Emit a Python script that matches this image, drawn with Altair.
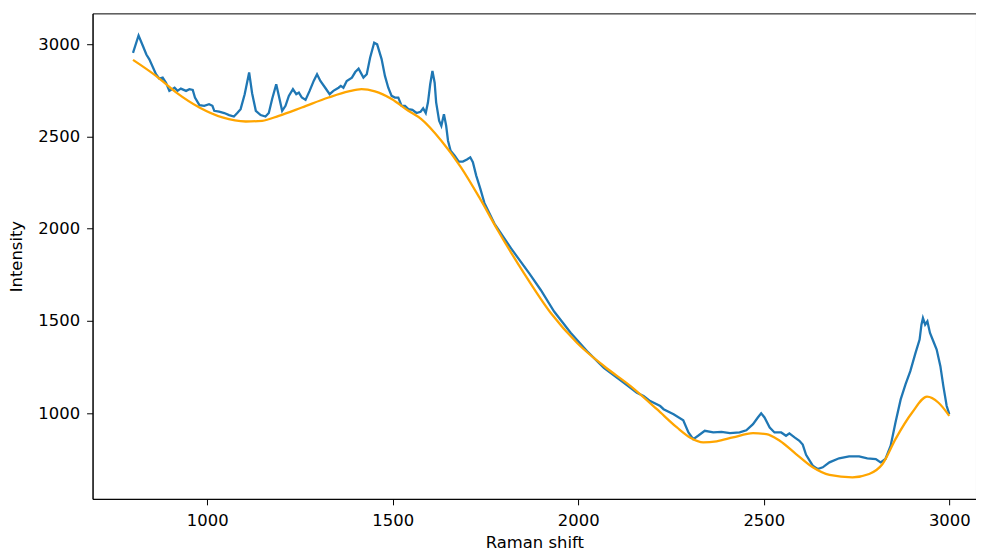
import altair as alt
import pandas as pd

# Raw spectrum (blue)
raw_x = [800, 815, 827, 836, 844, 862, 871, 880, 889, 898, 912, 920, 929, 943, 952, 961, 967, 979, 992,
         1005, 1014, 1019, 1032, 1046, 1059, 1072, 1081, 1090, 1101, 1113, 1121, 1131, 1144, 1157, 1166,
         1175, 1186, 1193, 1202, 1211, 1220, 1231, 1240, 1247, 1255, 1265, 1276, 1287, 1296, 1305, 1318,
         1330, 1340, 1354, 1360, 1367, 1376, 1390, 1399, 1408, 1421, 1430, 1439, 1450, 1458, 1470, 1479,
         1488, 1497, 1506, 1515, 1524, 1533, 1542, 1553, 1564, 1575, 1582, 1589, 1595, 1601, 1607, 1613,
         1617, 1625, 1631, 1638, 1644, 1649, 1656, 1667, 1678, 1689, 1700, 1709, 1716, 1725, 1736, 1747,
         1774, 1819, 1868, 1899, 1935, 1980, 2024, 2069, 2123, 2158, 2176, 2194, 2221, 2230, 2257, 2283,
         2297, 2310, 2323, 2341, 2364, 2386, 2409, 2435, 2453, 2471, 2484, 2493, 2502, 2516, 2529, 2547,
         2560, 2569, 2583, 2596, 2605, 2614, 2632, 2645, 2659, 2677, 2703, 2730, 2757, 2779, 2802, 2815,
         2828, 2842, 2855, 2869, 2882, 2895, 2909, 2920, 2925, 2929, 2935, 2941, 2948, 2957, 2966, 2976,
         2984, 2993, 3000]
raw_y = [2953, 3047, 2989, 2944, 2918, 2837, 2813, 2819, 2791, 2747, 2764, 2747, 2759, 2747, 2756, 2752,
         2711, 2670, 2666, 2675, 2666, 2639, 2634, 2627, 2616, 2608, 2627, 2648, 2729, 2847, 2734, 2639,
         2616, 2608, 2627, 2703, 2783, 2720, 2639, 2666, 2720, 2756, 2729, 2738, 2711, 2698, 2747, 2801,
         2837, 2801, 2764, 2729, 2747, 2764, 2774, 2764, 2801, 2819, 2849, 2867, 2819, 2837, 2927, 3008,
         2999, 2919, 2828, 2764, 2720, 2711, 2711, 2666, 2666, 2648, 2644, 2627, 2634, 2652, 2627, 2685,
         2783, 2855, 2791, 2685, 2585, 2558, 2621, 2558, 2477, 2423, 2396, 2364, 2364, 2375, 2387, 2361,
         2288, 2217, 2140, 2028, 1893, 1758, 1668, 1551, 1435, 1336, 1246, 1165, 1111, 1093, 1066, 1039,
         1022, 995, 962, 896, 860, 878, 905, 896, 899, 892, 896, 908, 941, 977, 1000, 977, 923, 896, 896,
         878, 891, 869, 851, 830, 775, 716, 698, 707, 734, 756, 766, 766, 756, 752, 734, 752, 824, 950,
         1075, 1156, 1228, 1327, 1399, 1480, 1516, 1480, 1498, 1435, 1390, 1345, 1255, 1147, 1039, 995]

# Fitted baseline (orange)
base_x = [800, 862, 916, 979, 1041, 1104, 1148, 1193, 1255, 1327, 1381, 1416, 1452, 1497, 1542, 1577,
          1631, 1684, 1733, 1783, 1854, 1926, 1997, 2069, 2141, 2212, 2266, 2301, 2337, 2373, 2417, 2471,
          2507, 2543, 2587, 2632, 2677, 2739, 2784, 2820, 2855, 2900, 2940, 2971, 3000]
base_y = [2915, 2828, 2739, 2657, 2603, 2581, 2585, 2612, 2657, 2711, 2744, 2756, 2744, 2703, 2639, 2594,
          2477, 2333, 2171, 1992, 1758, 1543, 1381, 1256, 1147, 1022, 923, 869, 842, 848, 869, 892,
          887, 851, 779, 707, 666, 653, 671, 725, 860, 1004, 1090, 1057, 986]

x_ticks = [1000, 1500, 2000, 2500, 3000]
y_ticks = [1000, 1500, 2000, 2500, 3000]

raw_df = pd.DataFrame({"x": raw_x, "y": raw_y})
base_df = pd.DataFrame({"x": base_x, "y": base_y})

xs = alt.Scale(domain=[691, 3072], nice=False, zero=False)
ys = alt.Scale(domain=[536, 3167], nice=False, zero=False)

xenc = alt.X("x:Q", scale=xs, title="Raman shift",
             axis=alt.Axis(values=x_ticks, format="d", grid=False, titlePadding=5, labelPadding=8))
yenc = alt.Y("y:Q", scale=ys, title="Intensity",
             axis=alt.Axis(values=y_ticks, format="d", grid=False, titlePadding=13, labelPadding=7))

raw = alt.Chart(raw_df).mark_line(color="#1f77b4", strokeWidth=2.3, clip=True).encode(x=xenc, y=yenc)
base = alt.Chart(base_df).mark_line(color="#ffa500", strokeWidth=2.3, interpolate="monotone", clip=True).encode(x=xenc, y=yenc)

chart = alt.layer(raw, base).properties(
    width=888, height=488,
    padding={"left": 85, "top": 4, "right": 0, "bottom": 53},
    autosize=alt.AutoSizeParams(type="none"),
).configure_view(stroke="black", strokeWidth=1).configure_axis(
    labelFont="DejaVu Sans", labelFontSize=16.5, labelColor="black",
    titleFont="DejaVu Sans", titleFontSize=16.5, titleFontWeight="normal", titleColor="black",
    domainColor="black", tickColor="black", tickSize=6, domainWidth=1, tickWidth=1,
)

chart.save("out.html", embed_options={"renderer": "svg", "actions": False})
